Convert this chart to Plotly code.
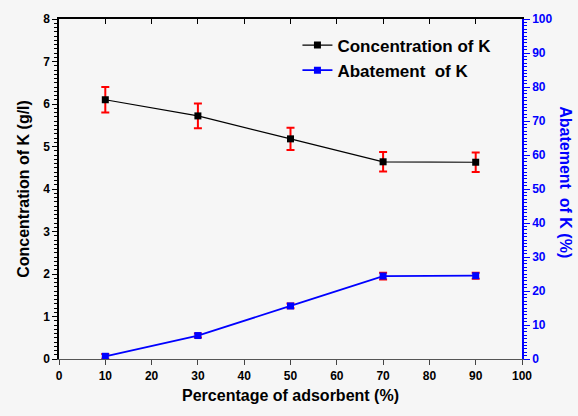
import plotly.graph_objects as go

pct = [10, 30, 50, 70, 90]
conc = [6.1, 5.72, 5.18, 4.64, 4.63]
conc_err = [0.3, 0.29, 0.26, 0.23, 0.23]
abat = [0.8, 6.9, 15.6, 24.4, 24.5]
abat_err = [0.7, 0.6, 0.7, 1.0, 0.9]

FONT = "Liberation Sans"
BG = "#f6f6f6"

fig = go.Figure()
fig.add_trace(go.Scatter(
    x=pct, y=conc, name="Concentration of K", mode="lines+markers",
    line=dict(color="black", width=1.2),
    marker=dict(symbol="square", size=7, color="black"),
    error_y=dict(type="data", array=conc_err, color="red", thickness=2, width=4),
))
fig.add_trace(go.Scatter(
    x=pct, y=abat, name="Abatement  of K", mode="lines+markers", yaxis="y2",
    line=dict(color="blue", width=1.8),
    marker=dict(symbol="square", size=7, color="blue"),
    error_y=dict(type="data", array=abat_err, color="red", thickness=2, width=4),
))
# helper for the mirrored top axis
fig.add_trace(go.Scatter(x=pct, y=conc, xaxis="x2", mode="lines", opacity=0,
                         showlegend=False, hoverinfo="skip"))

tickfont = dict(family=FONT, size=12, color="black", weight="bold")
fig.update_layout(
    width=578, height=416,
    margin=dict(l=59, r=56, t=14, b=57),
    paper_bgcolor=BG, plot_bgcolor=BG,
    font=dict(family=FONT),
    xaxis=dict(range=[0, 100], dtick=10, tick0=0, ticks="outside", ticklen=5,
               tickcolor="#444", linecolor="#555", linewidth=1.2, showline=True,
               showgrid=False, zeroline=False, tickfont=tickfont,
               title=dict(text="Percentage of adsorbent (%)",
                          font=dict(family=FONT, size=16, color="black", weight="bold"),
                          standoff=8)),
    xaxis2=dict(range=[0, 100], dtick=10, overlaying="x", side="top", anchor="y",
                ticks="inside", ticklen=5, tickcolor="black", showticklabels=False,
                showline=True, linecolor="black", linewidth=1.5, showgrid=False,
                zeroline=False),
    yaxis=dict(range=[0, 8], dtick=1, tick0=0, ticks="outside", ticklen=5,
               tickcolor="black", linecolor="black", linewidth=1.5, showline=True,
               showgrid=False, zeroline=False, tickfont=tickfont,
               minor=dict(dtick=0.1, ticks="outside", ticklen=3, tickcolor="black"),
               title=dict(text="Concentration of K (g/l)",
                          font=dict(family=FONT, size=16, color="black", weight="bold"),
                          standoff=10)),
    yaxis2=dict(range=[0, 100], dtick=10, tick0=0, overlaying="y", side="right",
                ticks="outside", ticklen=6, tickcolor="blue", linecolor="blue",
                linewidth=1.5, showline=True, showgrid=False, zeroline=False,
                tickfont=dict(family=FONT, size=12, color="blue", weight="bold"),
                minor=dict(dtick=1, ticks="outside", ticklen=3, tickcolor="blue")),
    legend=dict(x=0.515, y=0.975, xanchor="left", yanchor="top",
                bgcolor="rgba(0,0,0,0)", tracegroupgap=0,
                font=dict(family=FONT, size=17, color="black", weight="bold")),
    showlegend=True,
    annotations=[dict(text="Abatement  of K (%)", textangle=90, x=1.095, y=0.52,
                      xref="paper", yref="paper", xanchor="center", yanchor="middle",
                      showarrow=False,
                      font=dict(family=FONT, size=16, color="blue", weight="bold"))],
)

fig.write_html("out.html")
